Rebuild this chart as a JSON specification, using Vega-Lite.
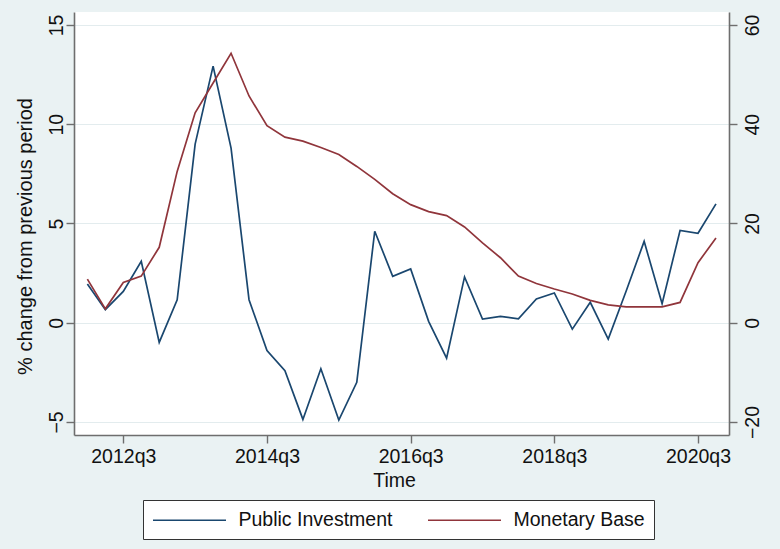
{
  "$schema": "https://vega.github.io/schema/vega-lite/v6.json",
  "autosize": {"type": "none"},
  "width": 655,
  "height": 423,
  "padding": {"left": 74, "top": 12, "right": 51, "bottom": 114},
  "background": "#EAF2F3",
  "config": {
    "view": {"fill": "white", "stroke": null},
    "font": "Liberation Sans",
    "axis": {
      "domainColor": "#6E6E6E",
      "domainWidth": 1.6,
      "tickColor": "#6E6E6E",
      "tickWidth": 1.4,
      "tickSize": 8,
      "labelColor": "#111111",
      "labelFontSize": 19.5,
      "titleColor": "#111111",
      "titleFontSize": 20,
      "titleFontWeight": "normal",
      "gridColor": "#E3ECEE",
      "gridWidth": 1.2
    }
  },
  "data": {
    "values": [
      {"t": 208, "pi": 1.95, "mb": 8.8},
      {"t": 209, "pi": 0.66, "mb": 2.8},
      {"t": 210, "pi": 1.58, "mb": 8.1},
      {"t": 211, "pi": 3.1, "mb": 9.4},
      {"t": 212, "pi": -0.99, "mb": 15.2},
      {"t": 213, "pi": 1.16, "mb": 30.5},
      {"t": 214, "pi": 9.0, "mb": 42.3},
      {"t": 215, "pi": 12.93, "mb": 48.3},
      {"t": 216, "pi": 8.8, "mb": 54.3},
      {"t": 217, "pi": 1.16, "mb": 45.7},
      {"t": 218, "pi": -1.4, "mb": 39.7},
      {"t": 219, "pi": -2.42, "mb": 37.4},
      {"t": 220, "pi": -4.87, "mb": 36.6},
      {"t": 221, "pi": -2.32, "mb": 35.3},
      {"t": 222, "pi": -4.9, "mb": 33.9},
      {"t": 223, "pi": -3.0, "mb": 31.5},
      {"t": 224, "pi": 4.61, "mb": 28.9},
      {"t": 225, "pi": 2.34, "mb": 26.0},
      {"t": 226, "pi": 2.71, "mb": 23.8},
      {"t": 227, "pi": 0.07, "mb": 22.4},
      {"t": 228, "pi": -1.78, "mb": 21.6},
      {"t": 229, "pi": 2.31, "mb": 19.3},
      {"t": 230, "pi": 0.19, "mb": 16.1},
      {"t": 231, "pi": 0.32, "mb": 13.1},
      {"t": 232, "pi": 0.2, "mb": 9.4},
      {"t": 233, "pi": 1.2, "mb": 7.9},
      {"t": 234, "pi": 1.5, "mb": 6.8},
      {"t": 235, "pi": -0.32, "mb": 5.8},
      {"t": 236, "pi": 1.03, "mb": 4.5},
      {"t": 237, "pi": -0.82, "mb": 3.6},
      {"t": 238, "pi": 1.6, "mb": 3.2},
      {"t": 239, "pi": 4.1, "mb": 3.2},
      {"t": 240, "pi": 0.96, "mb": 3.2},
      {"t": 241, "pi": 4.65, "mb": 4.1},
      {"t": 242, "pi": 4.51, "mb": 12.1},
      {"t": 243, "pi": 5.99, "mb": 17.1}
    ]
  },
  "encoding": {
    "x": {
      "field": "t",
      "type": "quantitative",
      "scale": {"domain": [207.255, 243.725], "nice": false, "zero": false},
      "axis": {
        "values": [210, 218, 226, 234, 242],
        "labelExpr": "floor(datum.value / 4) + 1960 + 'q' + (datum.value % 4 + 1)",
        "grid": false,
        "labelPadding": 4,
        "labelFlush": false,
        "title": "Time",
        "titleFontSize": 19.5,
        "titlePadding": 6,
        "titleX": 320,
        "titleAlign": "center"
      }
    }
  },
  "layer": [
    {
      "mark": {"type": "line", "strokeWidth": 1.7},
      "encoding": {
        "y": {
          "field": "pi",
          "type": "quantitative",
          "scale": {"domain": [-5.655, 15.655], "nice": false, "zero": false},
          "axis": {
            "orient": "left",
            "values": [-5, 0, 5, 10, 15],
            "grid": true,
            "labelAngle": -90,
            "labelAlign": "center",
            "labelBaseline": "alphabetic",
            "labelPadding": 4,
            "title": "% change from previous period",
            "titleAngle": 270,
            "titleBaseline": "alphabetic",
            "titleAlign": "center",
            "titleX": -43,
            "titleY": 224
          }
        },
        "color": {
          "datum": "Public Investment",
          "type": "nominal",
          "scale": {"domain": ["Public Investment", "Monetary Base"], "range": ["#1A476F", "#90353B"]},
          "legend": {
            "orient": "none",
            "legendX": 69,
            "legendY": 488,
            "direction": "horizontal",
            "title": null,
            "symbolType": "M-3.65,0H3.65",
            "symbolSize": 400,
            "symbolOffset": 26.5,
            "symbolStrokeWidth": 1.7,
            "labelFontSize": 19.5,
            "labelColor": "#111111",
            "labelOffset": 38,
            "columnPadding": 31,
            "padding": 9,
            "strokeColor": "#333333",
            "fillColor": "white"
          }
        }
      }
    },
    {
      "mark": {"type": "line", "strokeWidth": 1.7},
      "encoding": {
        "y": {
          "field": "mb",
          "type": "quantitative",
          "scale": {"domain": [-22.62, 62.62], "nice": false, "zero": false},
          "axis": {
            "orient": "right",
            "values": [-20, 0, 20, 40, 60],
            "grid": false,
            "labelAngle": -90,
            "labelAlign": "center",
            "labelBaseline": "top",
            "labelPadding": 6,
            "title": null
          }
        },
        "color": {"datum": "Monetary Base", "type": "nominal"}
      }
    }
  ],
  "resolve": {"scale": {"y": "independent"}}
}
